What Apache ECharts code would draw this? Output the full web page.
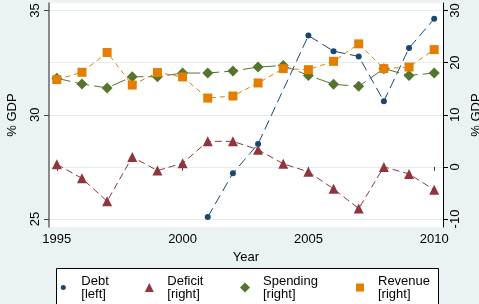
<!DOCTYPE html>
<html>
<head>
<meta charset="utf-8">
<script src="https://cdn.jsdelivr.net/npm/echarts@6/dist/echarts.min.js"></script>
<style>
  html, body { margin: 0; padding: 0; background: #eaf2f3; }
  #main { width: 479px; height: 304px; }
</style>
</head>
<body>
<div id="main"></div>
<script>
// years on the x axis
var years = [1995, 1996, 1997, 1998, 1999, 2000, 2001, 2002, 2003, 2004, 2005, 2006, 2007, 2008, 2009, 2010];
// debt, % GDP, left axis (2004 missing)
var debt = [null, null, null, null, null, null, 25.1, 27.2, 28.6, null, 33.8, 33.05, 32.8, 30.65, 33.2, 34.6];
// deficit, spending, revenue, % GDP, right axis
var deficit = [0.5, -2.2, -6.6, 1.9, -0.7, 0.7, 4.9, 4.9, 3.3, 0.6, -0.95, -4.2, -8.0, 0.0, -1.35, -4.4];
var spending = [17.0, 15.9, 15.15, 17.3, 17.3, 18.0, 18.0, 18.4, 19.15, 19.45, 17.55, 15.85, 15.45, 18.85, 17.55, 18.0];
var revenue = [16.75, 18.15, 21.95, 15.7, 18.1, 17.25, 13.2, 13.6, 16.1, 18.85, 18.65, 20.25, 23.6, 18.85, 19.15, 22.5];

// tick labels
var xTicks = [1995, 2000, 2005, 2010];
var leftTicks = [25, 30, 35];
var rightTicks = [-10, 0, 10, 20, 30];

function pairs(vals) {
  var out = [];
  for (var i = 0; i < years.length; i++) {
    out.push([years[i], vals[i]]);
  }
  return out;
}

var font = '"Liberation Sans", Arial, Helvetica, sans-serif';

// 序列
function mkSeries(name, vals, yIdx, color, symbol, size, dash) {
  return {
    name: name,
    type: 'line',
    xAxisIndex: 0,
    yAxisIndex: yIdx,
    data: pairs(vals),
    connectNulls: true,
    symbol: symbol,
    symbolSize: size,
    showAllSymbol: true,
    animation: false,
    itemStyle: { color: color },
    lineStyle: { color: color, width: 1, type: dash }
  };
}

var seriesList = [
  mkSeries('Debt', debt, 0, '#1a476f', 'circle', 6, [10, 5]),
  mkSeries('Deficit', deficit, 1, '#90353b', 'triangle', 10, [7, 4]),
  mkSeries('Spending', spending, 1, '#55752f', 'diamond', 11, [14, 5]),
  mkSeries('Revenue', revenue, 1, '#e37e00', 'rect', 9, [5, 4])
];

var legendLabels = { Debt: 'Debt\n[left]', Deficit: 'Deficit\n[right]', Spending: 'Spending\n[right]', Revenue: 'Revenue\n[right]' };
var legendIcons = { Debt: 'circle', Deficit: 'triangle', Spending: 'diamond', Revenue: 'rect' };
var legendCenter = { Debt: 63.3, Deficit: 149.3, Spending: 245, Revenue: 360 };
var legendSize = { Debt: 5, Deficit: 9, Spending: 10, Revenue: 8 };

var legends = [];
['Debt', 'Deficit', 'Spending', 'Revenue'].forEach(function (n) {
  var s = legendSize[n];
  legends.push({
    data: [{ name: n, icon: legendIcons[n] }],
    left: legendCenter[n] - s / 2,
    top: 274.5,
    padding: 0,
    itemWidth: s,
    itemHeight: s,
    itemGap: 0,
    selectedMode: false,
    formatter: function (name) { return legendLabels[name]; },
    textStyle: { fontFamily: font, fontSize: 13, color: '#000', lineHeight: 13, padding: [0, 0, 0, 13 - s / 2] }
  });
});

var myChart = echarts.init(document.getElementById('main'), null, { renderer: 'canvas' });
var option = {
  backgroundColor: '#eaf2f3',
  animation: false,
  graphic: [{
    type: 'rect',
    shape: { x: 56.5, y: 268.5, width: 382, height: 50 },
    style: { fill: '#fff', stroke: '#000', lineWidth: 1 },
    z: -1
  }],
  grid: {
    left: 49, right: 36, top: 3, bottom: 77,
    outerBoundsMode: 'none',
    show: true, backgroundColor: '#fff', borderWidth: 0
  },
  legend: legends,
  xAxis: {
    type: 'value',
    min: 1994.69, max: 2010.35,
    name: 'Year', nameLocation: 'middle', nameGap: 20,
    nameTextStyle: { fontFamily: font, fontSize: 13, color: '#000' },
    axisLine: { show: false },
    axisTick: { show: true, customValues: xTicks, length: 4, lineStyle: { color: '#444' } },
    axisLabel: {
      customValues: xTicks, margin: 6, fontFamily: font, fontSize: 13, color: '#000',
      formatter: function (v) { return String(v); }
    },
    splitLine: { show: false }
  },
  yAxis: [
    {
      type: 'value', position: 'left',
      min: 24.62, max: 35.36,
      name: '% GDP', nameLocation: 'middle', nameGap: 30, nameRotate: 90,
      nameTextStyle: { fontFamily: font, fontSize: 13, color: '#000' },
      axisLine: { show: true, lineStyle: { color: '#666', width: 1.5 } },
      axisTick: { show: true, customValues: leftTicks, length: 5, lineStyle: { color: '#444' } },
      axisLabel: { customValues: leftTicks, rotate: 90, margin: 7, fontFamily: font, fontSize: 13, color: '#000' },
      splitLine: { show: false }
    },
    {
      type: 'value', position: 'right',
      min: -11.53, max: 31.44,
      name: '% GDP', nameLocation: 'middle', nameGap: 23, nameRotate: 90,
      nameTextStyle: { fontFamily: font, fontSize: 13, color: '#000' },
      axisLine: { show: true, lineStyle: { color: '#000', width: 1 } },
      axisTick: { show: true, customValues: rightTicks, length: 5, lineStyle: { color: '#000' } },
      axisLabel: { customValues: rightTicks, rotate: 90, margin: 6, fontFamily: font, fontSize: 13, color: '#000' },
      splitLine: { show: true, lineStyle: { color: '#e3ecee', width: 1 } }
    }
  ],
  series: seriesList
};
myChart.setOption(option);
</script>
</body>
</html>
